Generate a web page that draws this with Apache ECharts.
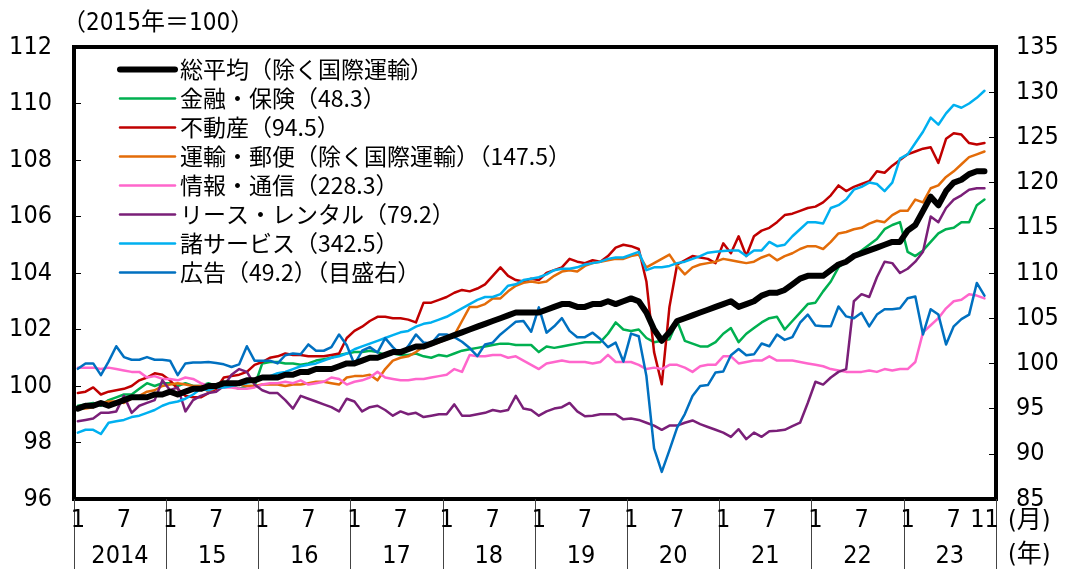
<!DOCTYPE html>
<html>
<head>
<meta charset="utf-8">
<script src="https://cdn.jsdelivr.net/npm/echarts@6/dist/echarts.min.js"></script>
<style>
  html, body { margin: 0; padding: 0; background: #ffffff; }
  #chart { width: 1067px; height: 581px; }
</style>
</head>
<body>
<div id="chart"></div>
<script>
// Monthly index, Jan 2014 - Nov 2023 (2015 = 100)
const years = [2014, 2015, 2016, 2017, 2018, 2019, 2020, 2021, 2022, 2023];
const yearLabels = ['2014', '15', '16', '17', '18', '19', '20', '21', '22', '23'];
const monthLabels = [1, 7];

// 総平均（除く国際運輸）
const total = [
  99.2, 99.3, 99.3, 99.4, 99.3, 99.4, 99.5, 99.6, 99.6, 99.6, 99.7, 99.7,
  99.8, 99.7, 99.8, 99.9, 99.9, 100.0, 100.0, 100.1, 100.1, 100.1, 100.2, 100.2,
  100.3, 100.3, 100.3, 100.4, 100.4, 100.5, 100.5, 100.6, 100.6, 100.6, 100.7, 100.8,
  100.8, 100.9, 101.0, 101.0, 101.1, 101.2, 101.2, 101.3, 101.4, 101.4, 101.5, 101.6,
  101.7, 101.8, 101.9, 102.0, 102.1, 102.2, 102.3, 102.4, 102.5, 102.6, 102.6, 102.6,
  102.6, 102.7, 102.8, 102.9, 102.9, 102.8, 102.8, 102.9, 102.9, 103.0, 102.9, 103.0,
  103.1, 103.0, 102.6, 102.0, 101.6, 101.9, 102.3, 102.4, 102.5, 102.6, 102.7, 102.8,
  102.9, 103.0, 102.8, 102.9, 103.0, 103.2, 103.3, 103.3, 103.4, 103.6, 103.8, 103.9,
  103.9, 103.9, 104.1, 104.3, 104.4, 104.6, 104.7, 104.8, 104.9, 105.0, 105.1, 105.1,
  105.5, 105.7, 106.2, 106.7, 106.4, 106.9, 107.2, 107.3, 107.5, 107.6, 107.6
];

// 金融・保険（48.3）
const finance = [
  99.3, 99.35, 99.4, 99.3, 99.5, 99.6, 99.7, 99.7, 99.9, 100.1, 100.0, 100.1,
  100.1, 100.0, 100.1, 100.0, 100.0, 100.1, 100.0, 100.1, 100.0, 99.9, 100.0, 100.0,
  100.8, 100.85, 100.85, 100.8, 100.8, 100.75, 100.8, 100.9, 100.95, 101.0, 101.1, 101.15,
  101.2, 101.2, 101.25, 101.2, 101.1, 101.15, 101.1, 101.1, 101.15, 101.05, 101.0, 101.1,
  101.05, 101.15, 101.25, 101.3, 101.35, 101.4, 101.45, 101.5, 101.5, 101.45, 101.45, 101.45,
  101.2, 101.4, 101.35, 101.4, 101.45, 101.5, 101.55, 101.55, 101.55, 101.85, 102.25, 102.0,
  101.95, 102.0, 101.7, 101.55, 101.6, 101.65, 102.3, 101.6, 101.5, 101.4, 101.4, 101.55,
  101.85, 102.05, 101.55, 101.85, 102.05, 102.25, 102.4, 102.45, 102.0, 102.3, 102.6, 102.9,
  102.95, 103.35, 103.7, 104.2, 104.4, 104.6, 104.8, 105.0, 105.2, 105.55, 105.7, 105.8,
  104.75, 104.6, 104.8, 105.1, 105.4, 105.55, 105.6, 105.8, 105.8, 106.4, 106.6
];

// 不動産（94.5）
const realEstate = [
  99.75, 99.8, 99.95, 99.7, 99.8, 99.85, 99.9, 100.0, 100.2, 100.3, 100.45, 100.4,
  100.2, 99.9, 99.65, 99.6, 99.6, 99.75, 99.9, 100.3, 100.35, 100.4, 100.5, 100.75,
  100.85, 101.0, 101.05, 101.15, 101.1, 101.1, 101.05, 101.05, 101.05, 101.1, 101.15, 101.7,
  101.95, 102.1, 102.3, 102.45, 102.45, 102.4, 102.4, 102.35, 102.25, 102.95, 102.95, 103.05,
  103.15, 103.3, 103.4, 103.35, 103.45, 103.6, 103.9, 104.2, 103.9, 103.75, 103.7, 103.8,
  103.75, 104.0, 104.1, 104.2, 104.5, 104.4, 104.35, 104.45, 104.4, 104.6, 104.9, 105.0,
  104.95, 104.85, 103.7, 101.2, 100.06, 102.8, 104.3, 104.45, 104.6, 104.55, 104.5, 104.35,
  105.05, 104.7, 105.3, 104.6, 105.3, 105.5, 105.6, 105.8, 106.05, 106.1, 106.2, 106.3,
  106.35, 106.5, 106.75, 107.1, 106.9, 107.05, 107.15, 107.25, 107.6, 107.55, 107.8, 108.0,
  108.2, 108.3, 108.4, 108.45, 107.9, 108.75, 108.95, 108.9, 108.6, 108.55, 108.6
];

// 運輸・郵便（除く国際運輸）（147.5）
const transport = [
  99.2, 99.2, 99.25, 99.4, 99.45, 99.45, 99.4, 99.55, 99.65, 99.8, 99.85, 100.0,
  100.05, 100.1, 100.05, 100.0, 100.0, 99.8, 99.95, 100.0, 100.0, 100.05, 100.0, 100.0,
  100.05, 100.05, 100.05, 100.0, 100.05, 100.05, 100.1, 100.15, 100.15, 100.1, 100.05, 100.3,
  100.35, 100.35, 100.4, 100.2, 100.6, 100.9, 101.0, 101.05, 101.2, 101.4, 101.45, 101.55,
  101.65, 101.8, 102.3, 102.8, 102.8, 102.9, 103.1, 103.1, 103.35, 103.55, 103.65, 103.7,
  103.65, 103.7, 103.9, 104.05, 104.1, 104.05, 104.25, 104.35, 104.4, 104.45, 104.5, 104.5,
  104.6, 104.65, 104.2, 104.35, 104.5, 104.65, 104.25, 103.95, 104.2, 104.3, 104.35, 104.4,
  104.5, 104.45, 104.4, 104.35, 104.4, 104.55, 104.65, 104.45, 104.6, 104.7, 104.85, 104.95,
  104.95, 104.85, 105.1, 105.4, 105.45, 105.55, 105.6, 105.75, 105.85, 105.8, 106.05, 106.2,
  106.2, 106.6, 106.5, 107.0, 107.1, 107.4, 107.6, 107.85, 108.1, 108.2, 108.3
];

// 情報・通信（228.3）
const infoComm = [
  100.65, 100.65, 100.65, 100.6, 100.65, 100.6, 100.55, 100.5, 100.5, 100.3, 100.35, 100.25,
  100.25, 100.2, 100.3, 100.25, 100.1, 100.0, 100.05, 99.95, 99.95, 99.9, 99.9, 99.95,
  100.05, 100.1, 100.1, 100.15, 100.1, 100.2, 100.05, 100.1, 100.15, 100.3, 100.25, 100.05,
  100.15, 100.2, 100.3, 100.5, 100.3, 100.25, 100.2, 100.2, 100.25, 100.25, 100.3, 100.35,
  100.4, 100.6, 100.5, 101.1, 101.05, 101.05, 101.1, 101.1, 101.0, 101.05, 100.9, 100.75,
  100.6, 100.8, 100.85, 100.9, 100.85, 100.85, 100.85, 100.8, 100.85, 101.1, 100.85, 100.85,
  100.85, 100.75, 100.6, 100.65, 100.6, 100.75, 100.75, 100.65, 100.5, 100.7, 100.75, 100.75,
  101.05, 101.05, 100.8, 100.85, 100.9, 100.9, 101.05, 100.9, 100.9, 100.9, 100.85, 100.8,
  100.75, 100.7, 100.6, 100.55, 100.5, 100.5, 100.5, 100.55, 100.5, 100.6, 100.55, 100.6,
  100.6, 100.85, 101.9, 102.15, 102.4, 102.75, 103.0, 103.05, 103.25, 103.2, 103.1
];

// リース・レンタル（79.2）
const leasing = [
  98.75, 98.8, 98.85, 99.05, 99.05, 99.1, 99.65, 99.05, 99.3, 99.4, 99.5, 100.2,
  99.85, 99.95, 99.1, 99.5, 99.65, 99.75, 99.8, 100.0, 100.4, 100.6, 100.5, 100.05,
  99.85, 99.75, 99.75, 99.5, 99.2, 99.65, 99.55, 99.45, 99.35, 99.25, 99.1, 99.55,
  99.45, 99.1, 99.25, 99.3, 99.15, 98.95, 99.1, 99.0, 99.05, 98.9, 98.95, 99.0,
  99.0, 99.35, 98.95, 98.95, 99.0, 99.05, 99.15, 99.1, 99.15, 99.65, 99.2, 99.15,
  98.95, 99.1, 99.2, 99.25, 99.4, 99.1, 98.93, 98.95, 99.0, 99.0, 99.0, 98.82,
  98.85, 98.8, 98.7, 98.6, 98.45, 98.6, 98.6, 98.7, 98.78, 98.65, 98.55, 98.45,
  98.35, 98.2, 98.47, 98.12, 98.35, 98.2, 98.4, 98.42, 98.45, 98.58, 98.7, 99.4,
  100.15, 100.05, 100.3, 100.5, 100.6, 103.0, 103.25, 103.15, 103.85, 104.4, 104.35, 104.0,
  104.15, 104.4, 104.75, 106.0, 105.8, 106.3, 106.6, 106.75, 106.95, 107.0, 107.0
];

// 諸サービス（342.5）
const services = [
  98.35, 98.45, 98.45, 98.3, 98.7, 98.75, 98.8, 98.9, 98.95, 99.05, 99.15, 99.3,
  99.4, 99.45, 99.55, 99.7, 99.9, 99.85, 99.95, 99.95, 100.0, 100.05, 100.1, 100.2,
  100.25, 100.35, 100.45, 100.5, 100.6, 100.7, 100.75, 100.8, 100.9, 101.0, 101.05, 101.15,
  101.3, 101.4, 101.5, 101.6, 101.7, 101.8, 101.9, 101.95, 102.1, 102.2, 102.25, 102.35,
  102.45, 102.6, 102.75, 102.9, 103.05, 103.15, 103.15, 103.25, 103.55, 103.6, 103.75, 103.8,
  103.85, 103.95, 104.1, 104.15, 104.15, 104.2, 104.3, 104.35, 104.4, 104.5, 104.55, 104.55,
  104.65, 104.75, 104.1, 104.2, 104.2, 104.25, 104.35, 104.4, 104.5, 104.6, 104.72, 104.75,
  104.78, 104.8, 104.8, 104.6, 104.8, 104.8, 105.1, 104.95, 105.0, 105.3, 105.55, 105.8,
  105.8, 105.75, 106.3, 106.4, 106.6, 106.95, 107.05, 107.2, 107.15, 106.9, 107.2, 108.05,
  108.2, 108.6, 109.0, 109.5, 109.25, 109.65, 109.95, 109.85, 110.0, 110.2, 110.45
];

// 広告（49.2）, read against the right-hand scale
const advertising = [
  99.4, 100.0, 100.0, 98.7, 100.2, 101.9, 100.7, 100.4, 100.4, 100.7, 100.4, 100.4,
  100.3, 98.7, 100.0, 100.1, 100.1, 100.15, 100.05, 99.9, 99.6, 99.9, 101.9, 100.3,
  100.3, 100.3, 100.0, 100.9, 101.1, 101.0, 102.1, 101.4, 101.4, 101.8, 103.2, 102.0,
  99.9, 101.4, 101.8, 101.2, 102.8, 101.8, 101.0, 101.9, 103.2, 102.3, 102.2, 103.2,
  103.2, 102.9, 102.4, 101.7, 100.8, 102.1, 102.3, 103.2, 103.9, 104.6, 104.7, 103.5,
  106.2, 103.4, 104.1, 105.0, 103.6, 102.9, 102.9, 103.4, 102.7, 101.8, 102.3, 100.2,
  103.3, 103.0, 98.6, 90.6, 88.0, 90.4, 92.9, 94.4, 96.4, 97.5, 97.6, 99.0,
  99.1, 100.9, 101.6, 100.9, 101.0, 102.2, 101.9, 103.2, 102.6, 102.9, 104.5, 105.4,
  104.2, 104.1, 104.1, 106.3, 105.2, 105.0, 105.6, 104.1, 105.4, 106.0, 106.0, 106.1,
  107.2, 107.4, 103.2, 106.0, 105.4, 102.1, 104.1, 104.9, 105.4, 108.9, 107.5
];

// One category per month, Jan 2014 - Dec 2023
const months = [];
years.forEach(function (y) {
  for (let m = 1; m <= 12; m++) months.push(y + '/' + m);
});
const lastIndex = total.length - 1;

const numFont = "'Liberation Sans Narrow', 'DejaVu Sans Condensed', 'Liberation Sans', 'Noto Sans CJK JP', sans-serif";
const jpFont = "'Noto Sans CJK JP', sans-serif";

const seriesDefs = [
  { name: '金融・保険（48.3）', data: finance, color: '#00B050', width: 2.5, axis: 0, z: 3 },
  { name: '不動産（94.5）', data: realEstate, color: '#C00000', width: 2.5, axis: 0, z: 3 },
  { name: '運輸・郵便（除く国際運輸）（147.5）', data: transport, color: '#E36C09', width: 2.5, axis: 0, z: 3 },
  { name: '情報・通信（228.3）', data: infoComm, color: '#FF66CC', width: 2.5, axis: 0, z: 3 },
  { name: 'リース・レンタル（79.2）', data: leasing, color: '#7A1F78', width: 2.5, axis: 0, z: 3 },
  { name: '諸サービス（342.5）', data: services, color: '#00B0F0', width: 2.5, axis: 0, z: 3 },
  { name: '広告（49.2）（目盛右）', data: advertising, color: '#0070C0', width: 2.5, axis: 1, z: 3 },
  { name: '総平均（除く国際運輸）', data: total, color: '#000000', width: 6, axis: 0, z: 5 }
];

const legendOrder = [
  '総平均（除く国際運輸）', '金融・保険（48.3）', '不動産（94.5）',
  '運輸・郵便（除く国際運輸）（147.5）', '情報・通信（228.3）',
  'リース・レンタル（79.2）', '諸サービス（342.5）', '広告（49.2）（目盛右）'
];

const chart = echarts.init(document.getElementById('chart'), null, { renderer: 'canvas' });

chart.setOption({
  animation: false,
  backgroundColor: '#ffffff',
  grid: {
    left: 74, right: 71, top: 47, bottom: 82,
    show: true, borderColor: '#000000', borderWidth: 4, backgroundColor: 'transparent'
  },
  legend: {
    data: legendOrder,
    orient: 'vertical',
    left: 112, top: 53,
    itemWidth: 55, itemHeight: 14, itemGap: 6,
    itemStyle: { opacity: 0 },
    lineStyle: { width: 'inherit', cap: 'round' },
    textStyle: { fontFamily: jpFont, fontSize: 23, color: '#000000', lineHeight: 22 }
  },
  xAxis: [
    {
      type: 'category',
      data: months,
      boundaryGap: true,
      axisLine: { show: false },
      axisTick: {
        show: true, length: 70,
        interval: function (i) { return i % 12 === 0; },
        lineStyle: { color: '#444444', width: 1 }
      },
      axisLabel: {
        interval: function (i) {
          const m = (i % 12) + 1;
          return (monthLabels.indexOf(m) >= 0 && i <= lastIndex) || i === lastIndex;
        },
        formatter: function (v, i) { return String((i % 12) + 1); },
        fontFamily: numFont, fontSize: 25, color: '#000000', margin: 9
      },
      splitLine: { show: false }
    },
    {
      type: 'category',
      data: months,
      boundaryGap: true,
      position: 'bottom',
      offset: 36,
      axisLine: { show: false },
      axisTick: { show: false },
      axisLabel: {
        interval: function (i) { return i % 12 === 6; },
        formatter: function (v, i) { return yearLabels[Math.floor(i / 12)]; },
        fontFamily: numFont, fontSize: 25, color: '#000000', margin: 9,
        padding: [0, 8, 0, 0]
      },
      splitLine: { show: false }
    }
  ],
  yAxis: [
    {
      type: 'value', min: 96, max: 112, interval: 2,
      axisLine: { show: false },
      axisTick: { show: true, inside: true, length: 7, lineStyle: { color: '#000000', width: 1 } },
      axisLabel: { fontFamily: numFont, fontSize: 25, color: '#000000', margin: 22 },
      splitLine: { show: false }
    },
    {
      type: 'value', min: 85, max: 135, interval: 5, position: 'right',
      axisLine: { show: false },
      axisTick: { show: true, inside: true, length: 7, lineStyle: { color: '#000000', width: 1 } },
      axisLabel: { fontFamily: numFont, fontSize: 25, color: '#000000', margin: 20 },
      splitLine: { show: false }
    }
  ],
  graphic: [
    { type: 'text', left: 62, top: 12,
      style: { text: '（2015年＝100）', fontFamily: numFont, fontSize: 24, fill: '#000000' } },
    { type: 'text', left: 1008, top: 509,
      style: { text: '(月)', fontFamily: numFont, fontSize: 25, fill: '#000000' } },
    { type: 'text', left: 1008, top: 543,
      style: { text: '(年)', fontFamily: numFont, fontSize: 25, fill: '#000000' } }
  ],
  series: seriesDefs.map(function (s) {
    return {
      name: s.name,
      type: 'line',
      data: s.data,
      yAxisIndex: s.axis,
      symbol: 'none',
      smooth: false,
      z: s.z,
      lineStyle: { color: s.color, width: s.width, join: 'round', cap: 'round' },
      itemStyle: { color: s.color },
      emphasis: { disabled: true }
    };
  })
});
</script>
</body>
</html>
